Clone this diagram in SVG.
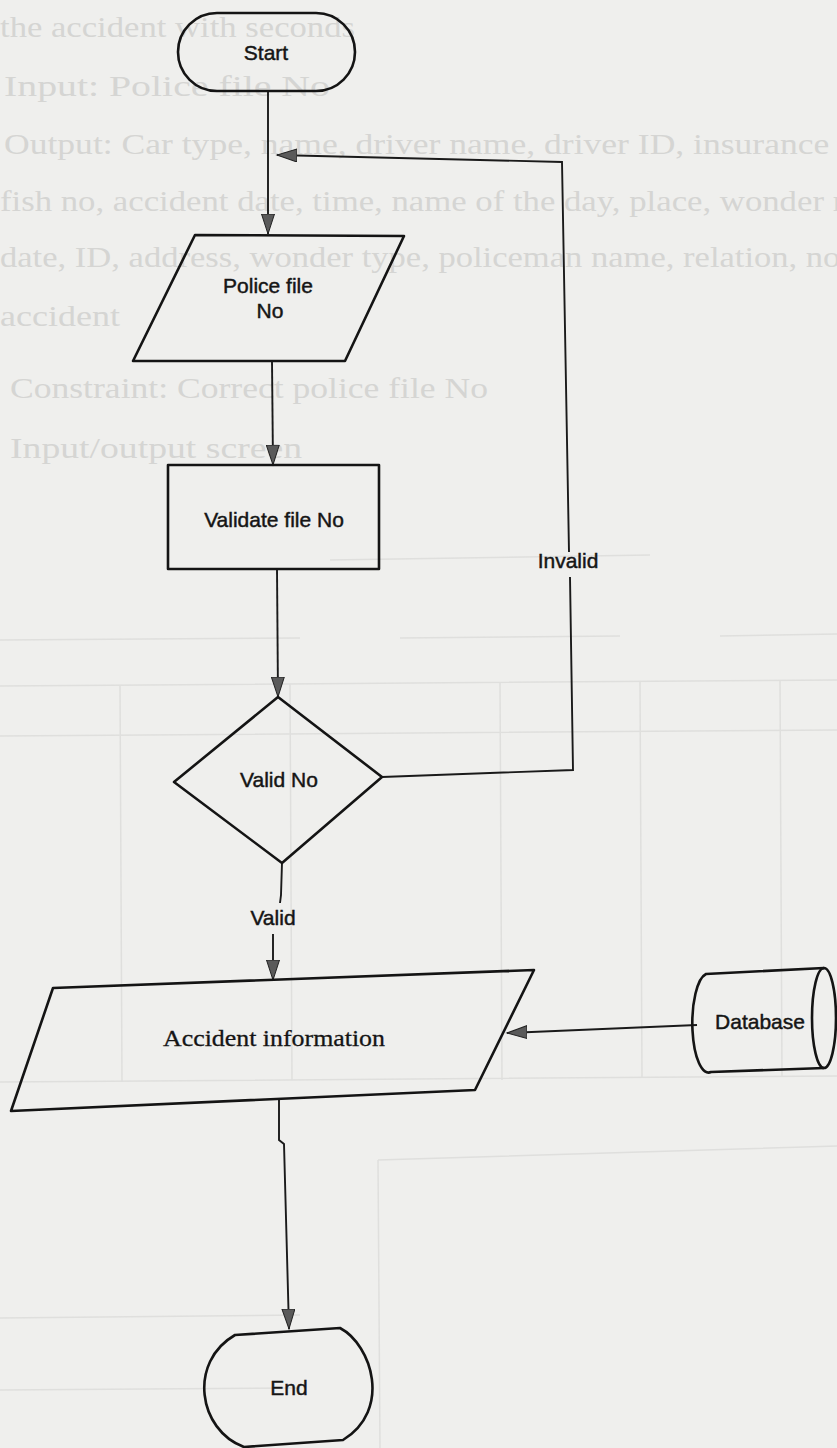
<svg xmlns="http://www.w3.org/2000/svg" width="837" height="1448" viewBox="0 0 837 1448">
  <style>
    .shape { fill: none; stroke: #141414; stroke-width: 2.6; stroke-linejoin: round; }
    .edge { fill: none; stroke: #1a1a1a; stroke-width: 1.9; }
    .lbl { font-family: "Liberation Sans", Arial, sans-serif; font-size: 21px; fill: #151515; stroke: #151515; stroke-width: 0.45; text-anchor: middle; }
    .serif { font-family: "Liberation Serif", "Times New Roman", serif; font-size: 24px; fill: #151515; stroke: #151515; stroke-width: 0.3; text-anchor: middle; }
    .ghost { font-family: "Liberation Serif", "Times New Roman", serif; font-size: 29px; fill: #d5d5d3; }
    .grid { fill: none; stroke: #dfdfdd; stroke-width: 1.5; }
  </style>
  <defs>
    <marker id="arrow" markerUnits="userSpaceOnUse" markerWidth="22" markerHeight="14" refX="20" refY="7" orient="auto">
      <path d="M0,0.5 L20,7 L0,13.5 Z" fill="#5a5a5a" stroke="#222" stroke-width="1"/>
    </marker>
  </defs>

  <!-- page -->
  <rect width="837" height="1448" fill="#efefed"/>

  <!-- faint print from the reverse side of the sheet -->
  <g id="reverse-side">
    <text class="ghost" x="0" y="37" textLength="355" lengthAdjust="spacingAndGlyphs">the accident with seconds</text>
    <text class="ghost" x="4" y="96" textLength="326" lengthAdjust="spacingAndGlyphs">Input: Police file No</text>
    <text class="ghost" x="4" y="154" textLength="850" lengthAdjust="spacingAndGlyphs">Output: Car type, name, driver name, driver ID, insurance c</text>
    <text class="ghost" x="0" y="211" textLength="850" lengthAdjust="spacingAndGlyphs">fish no, accident date, time, name of the day, place, wonder n</text>
    <text class="ghost" x="0" y="267" textLength="850" lengthAdjust="spacingAndGlyphs">date, ID, address, wonder type, policeman name, relation, not</text>
    <text class="ghost" x="0" y="326" textLength="120" lengthAdjust="spacingAndGlyphs">accident</text>
    <text class="ghost" x="10" y="398" textLength="478" lengthAdjust="spacingAndGlyphs">Constraint: Correct police file No</text>
    <text class="ghost" x="10" y="458" textLength="292" lengthAdjust="spacingAndGlyphs">Input/output screen</text>
    <path class="grid" d="M330,560 L650,555"/>
    <path class="grid" d="M0,640 L300,638 M400,638 L620,636 M720,636 L837,634"/>
    <path class="grid" d="M0,686 L837,680 M0,736 L837,730 M0,1082 L837,1076"/>
    <path class="grid" d="M120,686 L122,1082 M290,684 L292,1080 M500,682 L502,1080 M640,681 L642,1078 M780,680 L782,1077"/>
    <path class="grid" d="M378,1160 L837,1146 M378,1160 L380,1448"/>
    <path class="grid" d="M0,1318 L300,1315 M0,1390 L300,1388"/>
  </g>

  <!-- connectors -->
  <g id="connectors">
    <path class="edge" d="M268,91 L268,234" marker-end="url(#arrow)"/>
    <path class="edge" d="M272,361 L273,465" marker-end="url(#arrow)"/>
    <path class="edge" d="M277,569 L278,697" marker-end="url(#arrow)"/>
    <path class="edge" d="M282,863 L281,895 L280,903"/>
    <path class="edge" d="M273,934 L273,980" marker-end="url(#arrow)"/>
    <path class="edge" d="M697,1025 L507,1033" marker-end="url(#arrow)"/>
    <path class="edge" d="M279,1100 L279,1140 L284,1144 L289,1329" marker-end="url(#arrow)"/>
    <!-- invalid branch back to the input step -->
    <path class="edge" d="M382,777 L573,770 L570,577"/>
    <path class="edge" d="M569,552 L562,162 L277,155" marker-end="url(#arrow)"/>
    <text class="lbl" x="568" y="568">Invalid</text>
    <text class="lbl" x="273" y="925">Valid</text>
  </g>

  <g id="start">
    <rect class="shape" x="178" y="13" width="177" height="78" rx="39" ry="39"/>
    <text class="lbl" x="266" y="60">Start</text>
  </g>

  <g id="police-file-no">
    <path class="shape" d="M195,235 L404,236 L345,361 L133,361 Z"/>
    <text class="lbl" x="268" y="293">Police file</text>
    <text class="lbl" x="270" y="318">No</text>
  </g>

  <g id="validate-file-no">
    <rect class="shape" x="168" y="465" width="211" height="104"/>
    <text class="lbl" x="274" y="527">Validate file No</text>
  </g>

  <g id="valid-no">
    <path class="shape" d="M278,697 L382,777 L282,863 L174,782 Z"/>
    <text class="lbl" x="279" y="787">Valid No</text>
  </g>

  <g id="accident-information">
    <path class="shape" d="M53,988 L534,970 L475,1090 L11,1111 Z"/>
    <text class="serif" x="274" y="1046" textLength="222" lengthAdjust="spacingAndGlyphs">Accident information</text>
  </g>

  <g id="database">
    <path class="shape" d="M706,974 L824,968 A12,50 0 0 1 824,1068 L711,1072 A16,49 0 0 1 706,974 Z"/>
    <path class="shape" d="M824,968 A12,50 0 0 0 824,1068"/>
    <text class="lbl" x="760" y="1029">Database</text>
  </g>

  <g id="end">
    <path class="shape" d="M235,1335 L340,1328 C372,1345 392,1410 343,1440 L244,1447 C198,1430 188,1362 235,1335 Z"/>
    <text class="lbl" x="289" y="1395">End</text>
  </g>
</svg>
